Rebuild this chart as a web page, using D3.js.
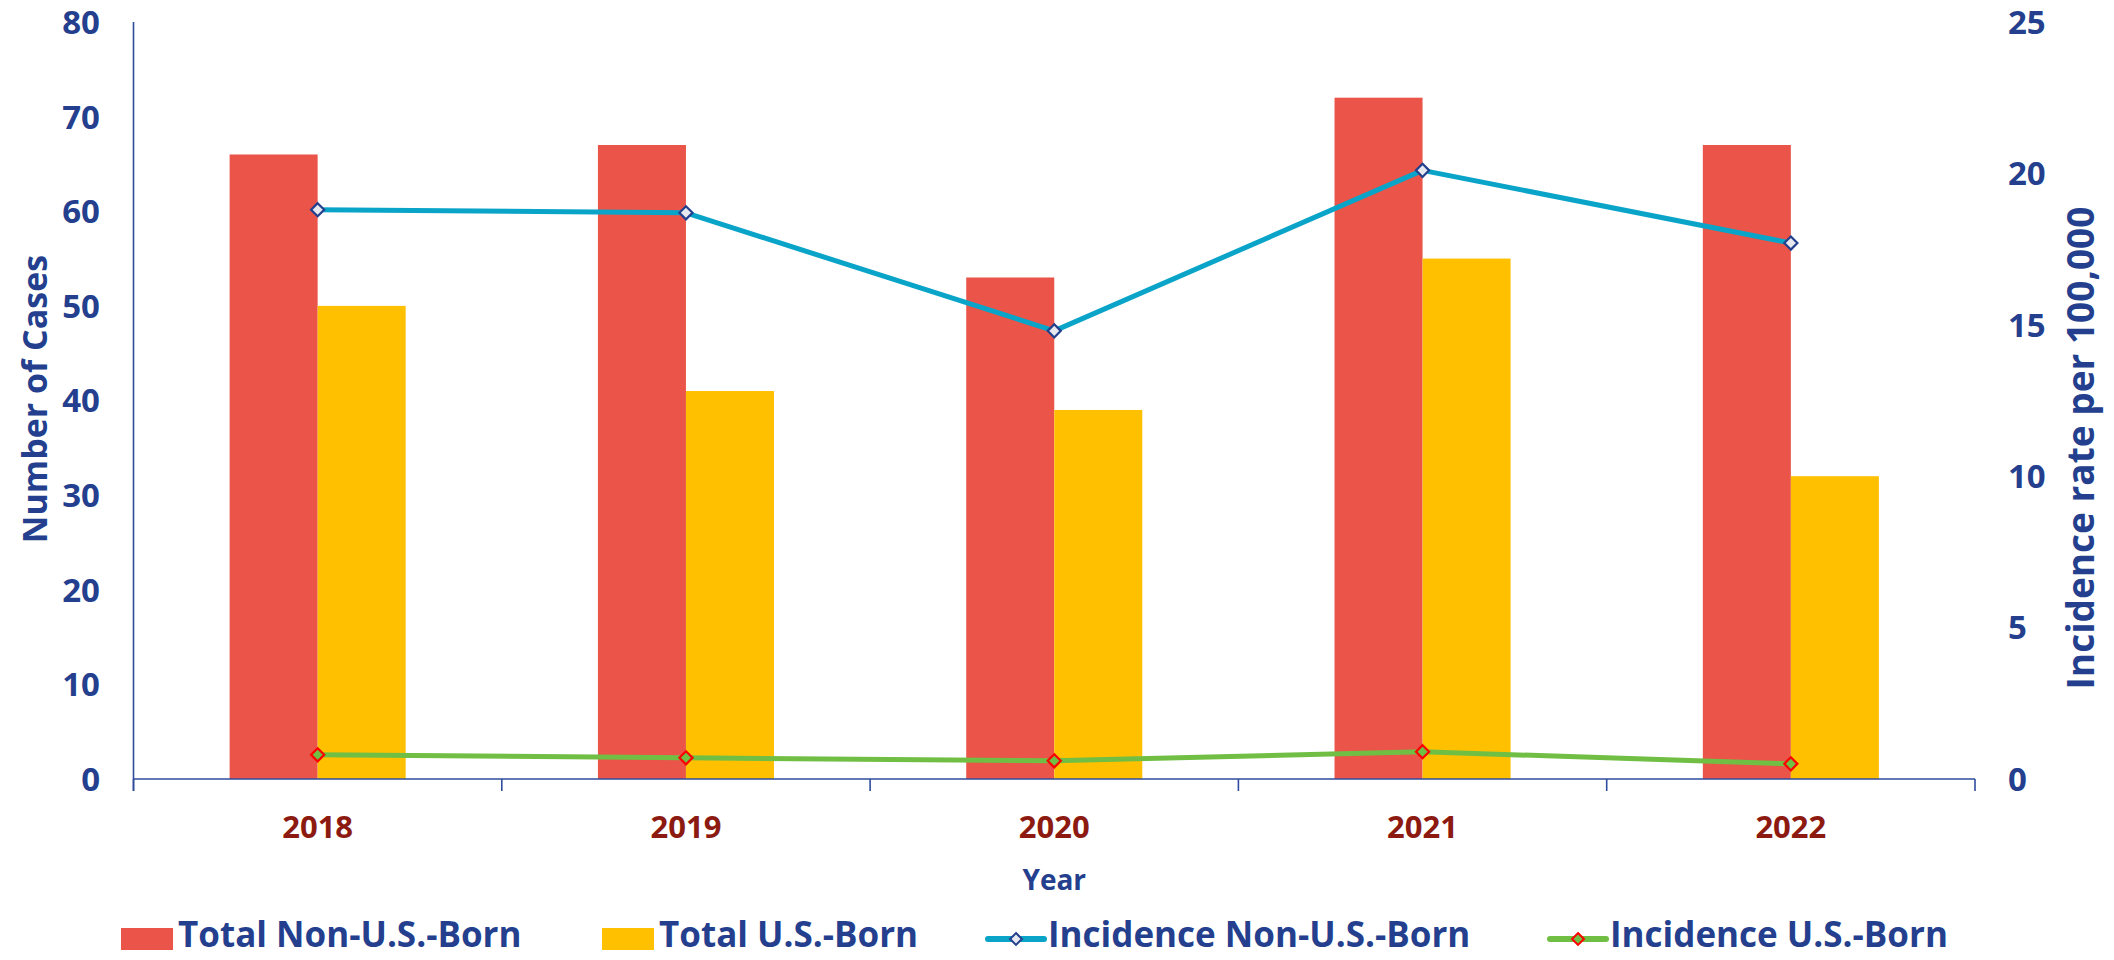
<!DOCTYPE html>
<html>
<head>
<meta charset="utf-8">
<script src="https://cdn.jsdelivr.net/npm/d3@7"></script>
<style>
  html, body { margin: 0; padding: 0; background: #fff; }
  svg { display: block; font-family: "Open Sans", "Noto Sans", sans-serif; font-weight: 700; }
</style>
</head>
<body>
<svg id="chart" width="2114" height="960"></svg>
<script>
// ---- data ----
const years = ["2018", "2019", "2020", "2021", "2022"];
const totalNonUSBorn = [66, 67, 53, 72, 67];
const totalUSBorn = [50, 41, 39, 55, 32];
const incidenceNonUSBorn = [18.8, 18.7, 14.8, 20.1, 17.7];
const incidenceUSBorn = [0.8, 0.7, 0.6, 0.9, 0.5];
const leftTicks = [0, 10, 20, 30, 40, 50, 60, 70, 80];
const rightTicks = [0, 5, 10, 15, 20, 25];
const barSeries = ["Total Non-U.S.-Born", "Total U.S.-Born"];
const lineSeries = ["Incidence Non-U.S.-Born", "Incidence U.S.-Born"];

// ---- style ----
const AXIS_BLUE = "#243F8E";
const LINE_AXIS = "#2F4C9E";
const YEAR_RED = "#8C1A10";
const RED = "#EA5449";
const YELLOW = "#FFC000";
const CYAN = "#0AA4C9";
const GREEN = "#70BF44";

const svg = d3.select("#chart");
const L = 133.5, R = 1975, T = 22, B = 779;

const x0 = d3.scaleBand().domain(years).range([L, R]).paddingInner(0.522).paddingOuter(0.261);
const x1 = d3.scaleBand().domain(barSeries).range([0, x0.bandwidth()]);
const yL = d3.scaleLinear().domain([0, 80]).range([B, T]);
const yR = d3.scaleLinear().domain([0, 25]).range([B, T]);

const barData = years.map((y, i) => ({ year: y, vals: [
  { s: barSeries[0], v: totalNonUSBorn[i], c: RED },
  { s: barSeries[1], v: totalUSBorn[i], c: YELLOW }
]}));

// bars
svg.append("g").selectAll("g").data(barData).join("g")
  .attr("transform", d => `translate(${x0(d.year)},0)`)
  .selectAll("rect").data(d => d.vals).join("rect")
  .attr("x", d => x1(d.s))
  .attr("width", x1.bandwidth())
  .attr("y", d => yL(d.v))
  .attr("height", d => yL(0) - yL(d.v))
  .attr("fill", d => d.c);

// axes lines
const step = x0.step();
const axisG = svg.append("g");
axisG.append("line").attr("x1", L).attr("x2", L).attr("y1", yL(80)).attr("y2", B + 12)
  .attr("stroke", LINE_AXIS).attr("stroke-width", 1.6);
axisG.append("line").attr("x1", L).attr("x2", R).attr("y1", B).attr("y2", B)
  .attr("stroke", LINE_AXIS).attr("stroke-width", 1.6);
axisG.selectAll("line.tk").data(d3.range(years.length + 1)).join("line")
  .attr("class", "tk")
  .attr("x1", i => L + i * step).attr("x2", i => L + i * step)
  .attr("y1", B).attr("y2", B + 12)
  .attr("stroke", LINE_AXIS).attr("stroke-width", 1.6);

// left tick labels
svg.append("g").selectAll("text").data(leftTicks).join("text")
  .attr("x", 100).attr("y", d => yL(d)).attr("dy", "0.36em")
  .attr("text-anchor", "end").attr("font-size", 33).attr("fill", AXIS_BLUE)
  .text(d => d);

// right tick labels
svg.append("g").selectAll("text").data(rightTicks).join("text")
  .attr("x", 2008).attr("y", d => yR(d)).attr("dy", "0.36em")
  .attr("text-anchor", "start").attr("font-size", 33).attr("fill", AXIS_BLUE)
  .text(d => d);

// x tick labels
svg.append("g").selectAll("text").data(years).join("text")
  .attr("x", d => x0(d) + x0.bandwidth() / 2).attr("y", 838)
  .attr("text-anchor", "middle").attr("font-size", 31).attr("fill", YEAR_RED)
  .text(d => d);

// axis titles
svg.append("text").attr("x", (L + R) / 2).attr("y", 890)
  .attr("text-anchor", "middle").attr("font-size", 28).attr("fill", AXIS_BLUE).text("Year");
svg.append("text").attr("transform", "translate(47,399) rotate(-90)")
  .attr("text-anchor", "middle").attr("font-size", 34).attr("fill", AXIS_BLUE).text("Number of Cases");
svg.append("text").attr("transform", "translate(2094,448) rotate(-90)")
  .attr("text-anchor", "middle").attr("font-size", 37).attr("fill", AXIS_BLUE).text("Incidence rate per 100,000");

// lines
const cx = d => x0(d) + x0.bandwidth() / 2;
const diamond = d3.symbol().type(d3.symbolDiamond2).size(110);
function drawLine(vals, color, mFill, mStroke) {
  const pts = years.map((y, i) => [cx(y), yR(vals[i])]);
  svg.append("path").attr("d", d3.line()(pts)).attr("fill", "none")
    .attr("stroke", color).attr("stroke-width", 5).attr("stroke-linejoin", "round");
  svg.append("g").selectAll("path").data(pts).join("path")
    .attr("transform", p => `translate(${p[0]},${p[1]})`)
    .attr("d", diamond).attr("fill", mFill).attr("stroke", mStroke).attr("stroke-width", 2.2);
}
drawLine(incidenceNonUSBorn, CYAN, "#E8E8EF", "#23408E");
drawLine(incidenceUSBorn, GREEN, GREEN, "#FF0000");

// legend
const legY = 936;
const legItems = [
  { name: barSeries[0], type: "bar", c: RED, x: 121 },
  { name: barSeries[1], type: "bar", c: YELLOW, x: 602 },
  { name: lineSeries[0], type: "line", c: CYAN, mf: "#E8E8EF", ms: "#23408E", x: 988 },
  { name: lineSeries[1], type: "line", c: GREEN, mf: GREEN, ms: "#FF0000", x: 1550 }
];
const lg = svg.append("g").selectAll("g").data(legItems).join("g")
  .attr("transform", d => `translate(${d.x},${legY})`);
lg.each(function(d) {
  const g = d3.select(this);
  if (d.type === "bar") {
    g.append("rect").attr("x", 0).attr("y", -8).attr("width", 52).attr("height", 22).attr("fill", d.c);
    g.append("text").attr("x", 57).attr("y", 11).attr("font-size", 35).attr("fill", AXIS_BLUE).text(d.name);
  } else {
    g.append("line").attr("x1", 0).attr("x2", 56).attr("y1", 3).attr("y2", 3)
      .attr("stroke", d.c).attr("stroke-width", 6).attr("stroke-linecap", "round");
    g.append("path").attr("transform", "translate(28,3)")
      .attr("d", d3.symbol().type(d3.symbolDiamond2).size(90))
      .attr("fill", d.mf).attr("stroke", d.ms).attr("stroke-width", 2);
    g.append("text").attr("x", 60).attr("y", 11).attr("font-size", 35).attr("fill", AXIS_BLUE).text(d.name);
  }
});
</script>
</body>
</html>
